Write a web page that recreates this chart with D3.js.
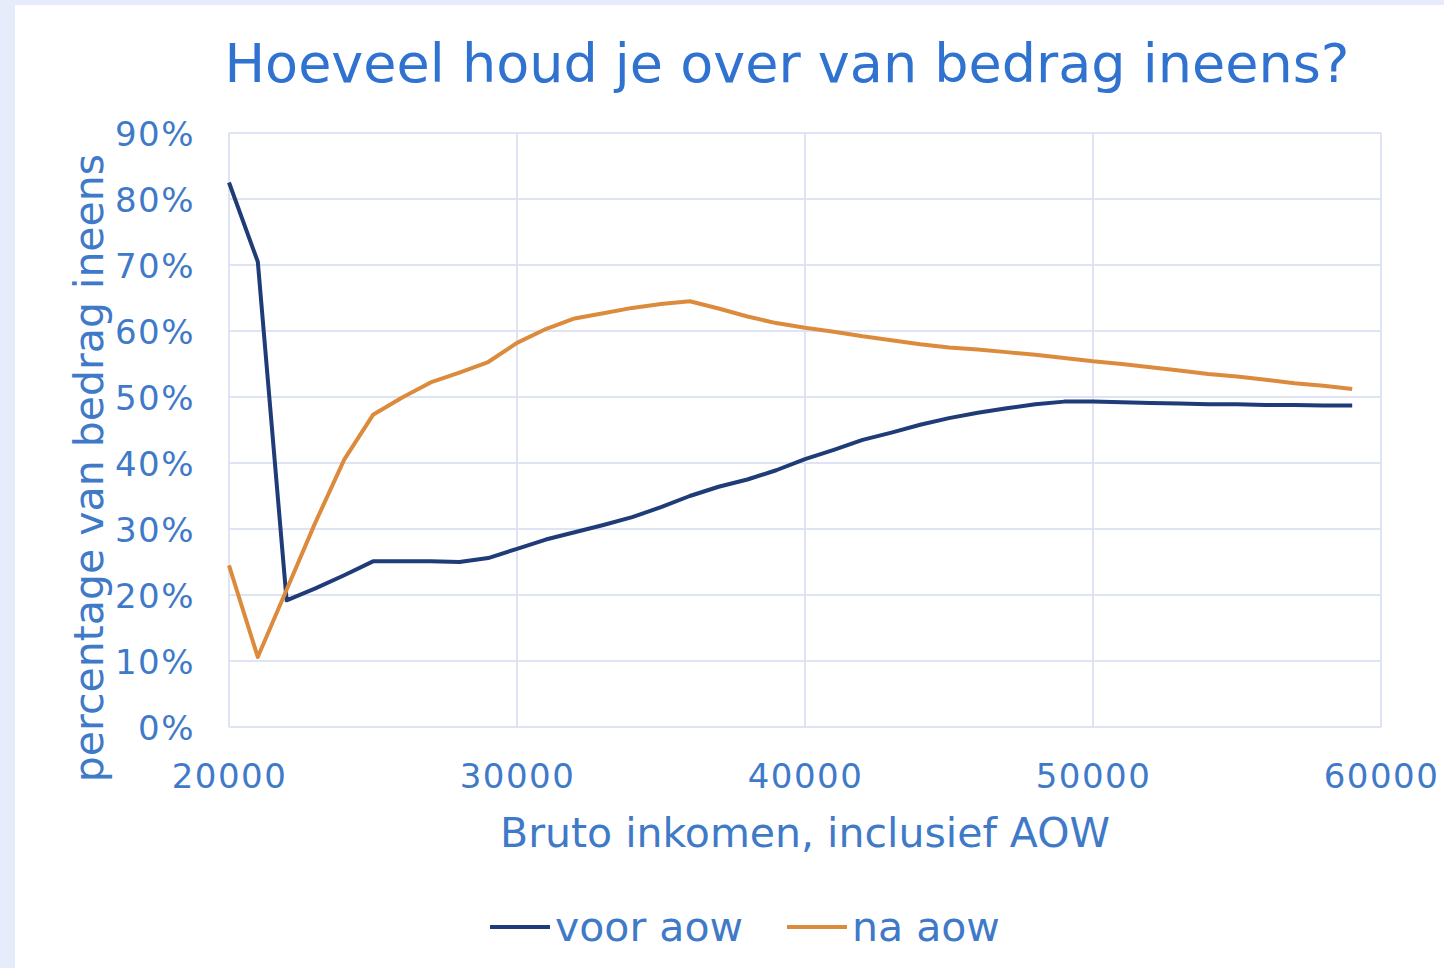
<!DOCTYPE html>
<html>
<head>
<meta charset="utf-8">
<script src="https://cdn.jsdelivr.net/npm/d3@7/dist/d3.min.js"></script>
<style>
  body { margin: 0; background: #e6ecf9; }
  #chart { position: absolute; left: 0; top: 0; }
  text { font-family: "DejaVu Sans", Verdana, sans-serif; fill: #3f7ac8; }
</style>
</head>
<body>
<div id="chart"></div>
<script>
// bruto inkomen (x), stap van 1000
var incomes = [20000, 21000, 22000, 23000, 24000, 25000, 26000, 27000, 28000, 29000,
               30000, 31000, 32000, 33000, 34000, 35000, 36000, 37000, 38000, 39000,
               40000, 41000, 42000, 43000, 44000, 45000, 46000, 47000, 48000, 49000,
               50000, 51000, 52000, 53000, 54000, 55000, 56000, 57000, 58000, 59000];

// percentage van bedrag ineens
var voorAow = [82.5, 70.5, 19.2, 21.0, 23.0, 25.1, 25.1, 25.1, 25.0, 25.6,
               27.0, 28.4, 29.5, 30.6, 31.8, 33.3, 35.0, 36.4, 37.5, 38.9,
               40.6, 42.0, 43.5, 44.6, 45.8, 46.8, 47.6, 48.3, 48.9, 49.3,
               49.3, 49.2, 49.1, 49.0, 48.9, 48.9, 48.8, 48.8, 48.7, 48.7];

var naAow = [24.5, 10.6, 20.8, 31.0, 40.5, 47.3, 49.9, 52.2, 53.7, 55.3,
             58.2, 60.3, 61.9, 62.7, 63.5, 64.1, 64.5, 63.4, 62.2, 61.2,
             60.5, 59.9, 59.2, 58.6, 58.0, 57.5, 57.2, 56.8, 56.4, 55.9,
             55.4, 55.0, 54.5, 54.0, 53.5, 53.1, 52.6, 52.1, 51.7, 51.2];

var xTicks = [20000, 30000, 40000, 50000, 60000];
var yTicks = [0, 10, 20, 30, 40, 50, 60, 70, 80, 90];

var seriesNames = ["voor aow", "na aow"];
var seriesColors = ["#1f3b78", "#dc8b3c"];

var width = 1444, height = 968;
var margin = {top: 133, right: 63, bottom: 241, left: 229};

var svg = d3.select("#chart").append("svg")
    .attr("width", width)
    .attr("height", height);

// white panel
svg.append("rect")
    .attr("x", 15).attr("y", 5)
    .attr("width", width - 15).attr("height", height - 5)
    .attr("fill", "#ffffff");

var x = d3.scaleLinear()
    .domain([20000, 60000])
    .range([margin.left, width - margin.right]);

var y = d3.scaleLinear()
    .domain([0, 90])
    .range([height - margin.bottom, margin.top]);

// gridlines
var grid = svg.append("g").attr("stroke", "#dfe4f5").attr("stroke-width", 2);
grid.selectAll(".hy").data(yTicks).enter().append("line")
    .attr("x1", x(20000)).attr("x2", x(60000))
    .attr("y1", function(d) { return y(d); })
    .attr("y2", function(d) { return y(d); });
grid.selectAll(".vx").data(xTicks).enter().append("line")
    .attr("x1", function(d) { return x(d); })
    .attr("x2", function(d) { return x(d); })
    .attr("y1", y(0)).attr("y2", y(90));

// axes (labels only, no domain)
var yAxis = svg.append("g")
    .attr("transform", "translate(" + (margin.left - 31) + ",0)")
    .call(d3.axisLeft(y).tickValues(yTicks).tickSize(0).tickFormat(function(d) { return d + "%"; }));
yAxis.select(".domain").remove();
yAxis.selectAll("text")
    .attr("font-size", 34)
    .attr("dy", "0.36em")
    .attr("letter-spacing", 1.5)
    .style("fill", "#3f7ac8")
    .style("font-family", "'DejaVu Sans', Verdana, sans-serif");

var xAxis = svg.append("g")
    .attr("transform", "translate(0," + (y(0) + 34) + ")")
    .call(d3.axisBottom(x).tickValues(xTicks).tickSize(0).tickFormat(d3.format("d")));
xAxis.select(".domain").remove();
xAxis.selectAll("text")
    .attr("font-size", 34)
    .attr("letter-spacing", 1.5)
    .style("fill", "#3f7ac8")
    .style("font-family", "'DejaVu Sans', Verdana, sans-serif");

// lines
var line = d3.line()
    .x(function(d) { return x(d[0]); })
    .y(function(d) { return y(d[1]); });

[voorAow, naAow].forEach(function(vals, i) {
  svg.append("path")
      .datum(incomes.map(function(inc, j) { return [inc, vals[j]]; }))
      .attr("fill", "none")
      .attr("stroke", seriesColors[i])
      .attr("stroke-width", 4)
      .attr("stroke-linejoin", "round")
      .attr("d", line);
});

// title
svg.append("text")
    .attr("x", 787).attr("y", 82)
    .attr("text-anchor", "middle")
    .attr("font-size", 54)
    .style("fill", "#2f72cf")
    .text("Hoeveel houd je over van bedrag ineens?");

// axis titles
svg.append("text")
    .attr("x", 805).attr("y", 847)
    .attr("text-anchor", "middle")
    .attr("font-size", 41)
    .text("Bruto inkomen, inclusief AOW");

svg.append("text")
    .attr("transform", "translate(103,468) rotate(-90)")
    .attr("text-anchor", "middle")
    .attr("font-size", 41)
    .text("percentage van bedrag ineens");

// legend
var legendX = [490, 787];
var legend = svg.append("g");
seriesNames.forEach(function(name, i) {
  legend.append("line")
      .attr("x1", legendX[i]).attr("x2", legendX[i] + 60)
      .attr("y1", 927).attr("y2", 927)
      .attr("stroke", seriesColors[i])
      .attr("stroke-width", 4);
  legend.append("text")
      .attr("x", legendX[i] + 65).attr("y", 941)
      .attr("font-size", 41)
      .text(name);
});
</script>
</body>
</html>
